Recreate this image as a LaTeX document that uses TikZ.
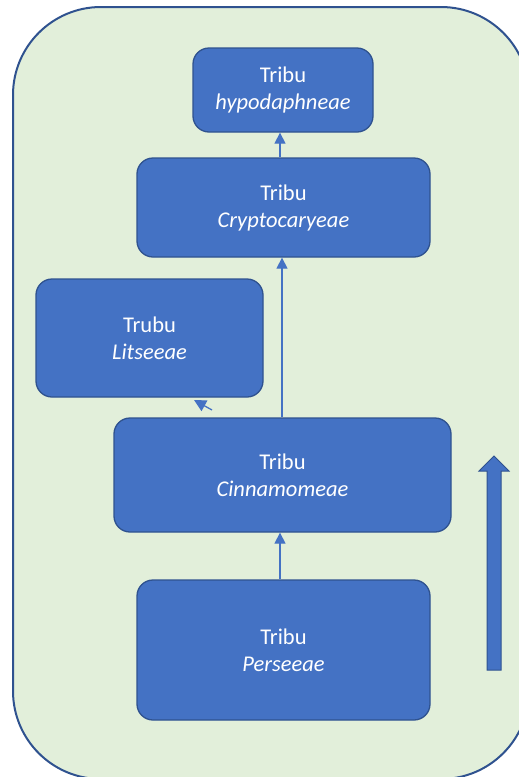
\documentclass[tikz,border=0pt]{standalone}
\usepackage{fontspec}
\setmainfont{Carlito}
\usetikzlibrary{arrows.meta}
\definecolor{panelfill}{HTML}{E2EFDA}
\definecolor{boxfill}{HTML}{4472C4}
\definecolor{boxline}{HTML}{2F528F}
\tikzset{
  taxon/.style={draw=boxline, line width=1.3pt, fill=boxfill, rounded corners=16pt,
    text=white, align=center, inner sep=0pt,
    font=\fontsize{22.5}{27}\selectfont},
  link/.style={draw=boxfill, line width=1.3pt, -{Triangle[length=11pt,width=11pt]}},
}
\begin{document}
\begin{tikzpicture}[x=1pt,y=-1pt]
  \useasboundingbox (0,0) rectangle (519,777);
  \clip (0,0) rectangle (519,777);
  % background panel
  \draw[draw=boxline, line width=2pt, fill=panelfill, rounded corners=88pt]
    (13,7) rectangle (529,779);
  % taxa
  \node[taxon, minimum width=180pt, minimum height=84pt] (hyp) at (283,90)
    {Tribu\\\textit{hypodaphneae}};
  \node[taxon, minimum width=293pt, minimum height=99pt] (cry) at (283.5,207.5)
    {Tribu\\\textit{Cryptocaryeae}};
  \node[taxon, minimum width=227pt, minimum height=118pt] (lit) at (149.5,338)
    {Trubu\\\textit{Litseeae}};
  \node[taxon, minimum width=337pt, minimum height=114pt] (cin) at (282.5,475)
    {Tribu\\\textit{Cinnamomeae}};
  \node[taxon, minimum width=293pt, minimum height=140pt] (per) at (283.5,650)
    {Tribu\\\textit{Perseeae}};
  % connectors
  \draw[link] (per.north -| 280,0) -- (cin.south -| 280,0);
  \draw[link] (cin.north -| 282,0) -- (cry.south -| 282,0);
  \draw[link] (cry.north -| 280,0) -- (hyp.south -| 280,0);
  \coordinate (stub) at (212,410);
  \coordinate (stubtip) at (194,400);
  \draw[link, -{Triangle[length=12pt,width=12pt]}] (stub) -- (stubtip);
  % large upward arrow
  \draw[draw=boxline, line width=1pt, fill=boxfill]
    (487,670) -- (487,471) -- (479,471) -- (494,456) -- (509,471) -- (501,471) -- (501,670) -- cycle;
\end{tikzpicture}
\end{document}
